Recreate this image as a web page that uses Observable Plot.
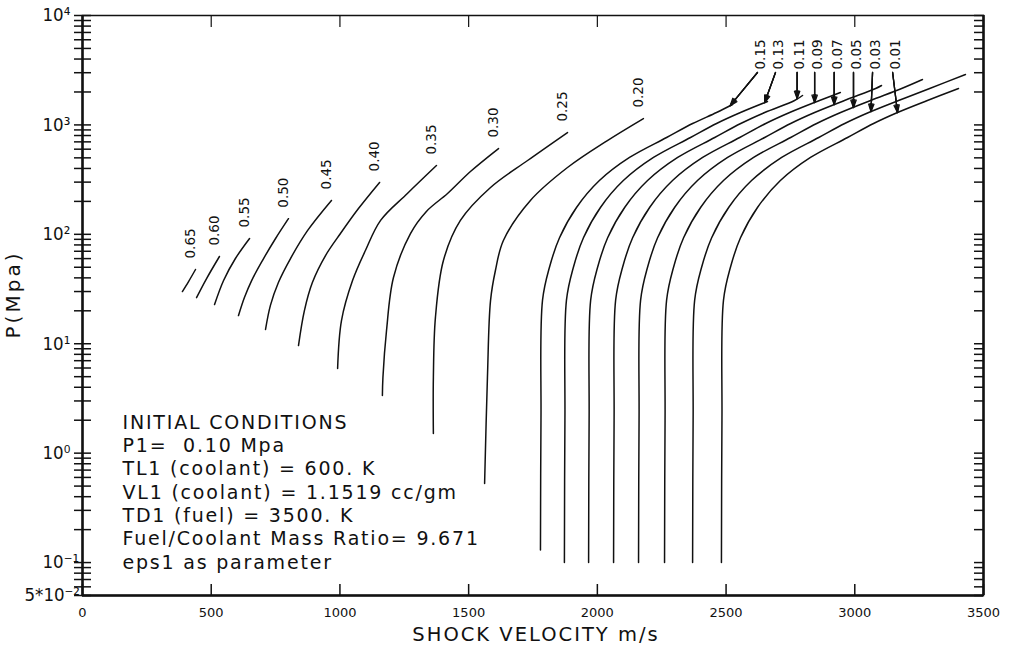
<!DOCTYPE html>
<html><head><meta charset="utf-8">
<script src="https://cdn.jsdelivr.net/npm/d3@7"></script>
<script src="https://cdn.jsdelivr.net/npm/@observablehq/plot@0.6"></script>
<style>
html,body{margin:0;padding:0;background:#fff;}
svg text{white-space:pre;}
g[font-size="19"] text{letter-spacing:1.8px;}
g[font-size="19.5"] text{letter-spacing:2px;}
g[font-size="20"] text{letter-spacing:3px;}
</style></head><body>
<script>
// ---- curve parameters (eps1) ----
const epsHigh = ["0.65","0.60","0.55","0.50","0.45","0.40","0.35","0.30","0.25","0.20"];
const epsLow  = ["0.15","0.13","0.11","0.09","0.07","0.05","0.03","0.01"];

// ---- shock velocity (m/s) and pressure (MPa) ----
const v_065 = [388, 412, 439];
const P_065 = [30.0, 37.0, 47.7];
const v_060 = [443, 482, 532];
const P_060 = [26.4, 39.4, 62.7];
const v_055 = [513, 548, 594, 649];
const P_055 = [22.8, 37.8, 60.1, 91.6];
const v_050 = [606, 629, 657, 699, 750, 800];
const P_050 = [18.1, 26.4, 37.8, 57.6, 91.6, 139];
const v_045 = [711, 730, 761, 808, 874, 967];
const P_045 = [13.5, 22.4, 36.3, 60.1, 108, 204];
const v_040 = [839, 862, 893, 944, 1002, 1072, 1154];
const P_040 = [9.63, 20.1, 36.3, 64.0, 101.7, 172, 298];
const v_035 = [991, 1006, 1049, 1099, 1158, 1262, 1375];
const P_035 = [5.93, 16.3, 37.8, 71.1, 134, 236, 425];
const v_030 = [1165, 1167, 1181, 1208, 1274, 1336, 1418, 1507, 1616];
const P_030 = [3.36, 4.91, 13.2, 40.3, 101.7, 162, 236, 375, 608];
const v_025 = [1363, 1363, 1371, 1402, 1468, 1585, 1729, 1884];
const P_025 = [1.51, 4.91, 17.4, 57.6, 134, 268, 473, 852];
const v_020 = [1562, 1573, 1585, 1604, 1635, 1740, 1884, 2039, 2179];
const P_020 = [0.527, 4.91, 24.8, 46.7, 87.8, 204, 408, 720, 1144];
const v_015 = [1779, 1781, 1787, 1814, 1853, 1919, 2008, 2125, 2269, 2370, 2463, 2525];
const P_015 = [0.13, 2, 25, 50, 93, 176, 310, 504, 767, 1030, 1298, 1536];
const v_013 = [1872, 1874, 1880, 1907, 1946, 2012, 2101, 2218, 2362, 2463, 2556, 2661];
const P_013 = [0.1, 2, 25, 50, 93, 176, 310, 504, 767, 1030, 1298, 1637];
const v_011 = [1966, 1968, 1974, 2001, 2040, 2106, 2195, 2312, 2456, 2557, 2650, 2766, 2797];
const P_011 = [0.1, 2, 25, 50, 93, 176, 310, 504, 767, 1030, 1298, 1671, 1857];
const v_009 = [2063, 2065, 2071, 2098, 2137, 2203, 2292, 2409, 2553, 2654, 2747, 2863, 2944];
const P_009 = [0.1, 2, 25, 50, 93, 176, 310, 504, 767, 1030, 1298, 1671, 1978];
const v_007 = [2160, 2162, 2168, 2195, 2234, 2300, 2389, 2506, 2650, 2751, 2844, 2960, 3081, 3104];
const P_007 = [0.1, 2, 25, 50, 93, 176, 310, 504, 767, 1030, 1298, 1671, 2152, 2291];
const v_005 = [2261, 2263, 2269, 2296, 2335, 2401, 2490, 2607, 2751, 2852, 2945, 3061, 3182, 3263];
const P_005 = [0.1, 2, 25, 50, 93, 176, 310, 504, 767, 1030, 1298, 1671, 2152, 2600];
const v_003 = [2370, 2372, 2378, 2405, 2444, 2510, 2599, 2716, 2860, 2961, 3054, 3170, 3291, 3430];
const P_003 = [0.1, 2, 25, 50, 93, 176, 310, 504, 767, 1030, 1298, 1671, 2152, 2890];
const v_001 = [2482, 2484, 2490, 2517, 2556, 2622, 2711, 2828, 2972, 3073, 3166, 3282, 3403];
const P_001 = [0.1, 2, 25, 50, 93, 176, 310, 504, 767, 1030, 1298, 1671, 2152];

// ---- leader arrows for the crowded low-eps labels ----
const arrowFromV = [2622, 2692, 2776, 2844, 2920, 2995, 3069, 3147];
const arrowFromP = [3013, 3013, 3013, 3013, 3013, 3013, 3013, 3013];
const arrowToV   = [2516, 2650, 2776, 2844, 2920, 2995, 3063, 3166];
const arrowToP   = [1500, 1600, 1741, 1603, 1536, 1442, 1325, 1298];

// ---- ticks ----
const xTicks = [0, 500, 1000, 1500, 2000, 2500, 3000, 3500];
const yDecades = [0.1, 1, 10, 100, 1000, 10000];
const yDecadeLabels = ["10⁻¹", "10⁰", "10¹", "10²", "10³", "10⁴"];
const yBottom = [0.05];
const yBottomLabel = ["5*10⁻²"];

const boxLines = [
  "INITIAL CONDITIONS",
  "P1=  0.10 Mpa",
  "TL1 (coolant) = 600. K",
  "VL1 (coolant) = 1.1519 cc/gm",
  "TD1 (fuel) = 3500. K",
  "Fuel/Coolant Mass Ratio= 9.671",
  "eps1 as parameter"
];
const xTitle = "SHOCK VELOCITY m/s";
const yTitle = "P(Mpa)";

// ---- build tables ----
const curveEps = [...epsHigh, ...epsLow];
const curveV = [v_065, v_060, v_055, v_050, v_045, v_040, v_035, v_030, v_025, v_020,
                v_015, v_013, v_011, v_009, v_007, v_005, v_003, v_001];
const curveP = [P_065, P_060, P_055, P_050, P_045, P_040, P_035, P_030, P_025, P_020,
                P_015, P_013, P_011, P_009, P_007, P_005, P_003, P_001];
const rows = curveEps.flatMap((e, i) => curveV[i].map((v, j) => ({eps: e, v, P: curveP[i][j]})));
const tops = epsHigh.map((e, i) => ({eps: e, v: curveV[i][curveV[i].length - 1], P: curveP[i][curveP[i].length - 1]}));
const arrows = epsLow.map((e, i) => ({eps: e, x1: arrowFromV[i], y1: arrowFromP[i], x2: arrowToV[i], y2: arrowToP[i]}));

const yMinor = [];
for (let e = -2; e <= 3; e++) for (let m = 1; m <= 9; m++) {
  const v = +(m * Math.pow(10, e)).toPrecision(6);
  if (v >= 0.05 && v <= 10000) yMinor.push(v);
}
yMinor.push(10000);
const decLabel = new Map(yDecades.map((d, i) => [d, yDecadeLabels[i]]));

const ink = "#111";
const tickFont = "DejaVu Sans Condensed, DejaVu Sans, sans-serif";
const chart = Plot.plot({
  width: 1010, height: 646,
  marginLeft: 82, marginRight: 27, marginTop: 15, marginBottom: 51,
  x: {domain: [0, 3500], axis: null},
  y: {type: "log", domain: [0.05, 10000], axis: null},
  style: {fontFamily: "DejaVu Sans, sans-serif", color: ink, background: "#fff", overflow: "visible"},
  marks: [
    Plot.frame({stroke: ink, strokeWidth: 1.5}),
    Plot.ruleX([0, 3500], {stroke: ink, strokeWidth: 2.5}),
    Plot.ruleY([0.05], {stroke: ink, strokeWidth: 2.5}),
    // y ticks: crossing on the left, inward on the right
    Plot.axisY(yMinor, {anchor: "left", tickSize: 17, dx: 9, tickFormat: () => "", strokeWidth: 1.5}),
    Plot.axisY(yMinor, {anchor: "right", tickSize: 10, dx: -10, tickFormat: () => "", strokeWidth: 1.5}),
    Plot.axisY(yDecades, {anchor: "left", tickSize: 0, tickPadding: 40, textAnchor: "start", tickFormat: d => decLabel.get(d), fontSize: 18.5, fontFamily: tickFont}),
    Plot.text(yBottom, {y: d => d, frameAnchor: "left", text: (d, i) => yBottomLabel[i], dx: -58, textAnchor: "start", fontSize: 18.5, fontFamily: tickFont, fill: ink}),
    // x ticks: inward bottom and top
    Plot.axisX(xTicks, {anchor: "bottom", tickSize: 11, dy: -11, tickFormat: () => "", strokeWidth: 1.5}),
    Plot.axisX(xTicks, {anchor: "top", tickSize: 11, dy: 11, tickFormat: () => "", strokeWidth: 1.2}),
    Plot.axisX(xTicks, {anchor: "bottom", tickSize: 0, tickPadding: 12, fontSize: 13, tickFormat: d => String(d)}),
    // curves
    Plot.line(rows, {x: "v", y: "P", z: "eps", curve: "catmull-rom", stroke: ink, strokeWidth: 1.5}),
    // labels of high-eps curves
    Plot.text(tops, {x: "v", y: "P", text: "eps", rotate: -90, textAnchor: "start", dx: -5, dy: -11, fontSize: 13.5, fill: ink}),
    // arrows & labels of low-eps curves
    Plot.arrow(arrows, {x1: "x1", y1: "y1", x2: "x2", y2: "y2", headLength: 9, headAngle: 40, stroke: ink, strokeWidth: 1.3}),
    Plot.arrow(arrows, {x1: "x1", y1: "y1", x2: "x2", y2: "y2", headLength: 9, headAngle: 25, stroke: ink, strokeWidth: 1.3}),
    Plot.arrow(arrows, {x1: "x1", y1: "y1", x2: "x2", y2: "y2", headLength: 9, headAngle: 12, stroke: ink, strokeWidth: 1.3}),
    Plot.text(arrows, {x: "x1", y: "y1", text: "eps", rotate: -90, textAnchor: "start", dx: 3, dy: -3, fontSize: 13.5, fill: ink}),
    // initial-conditions box
    Plot.text([boxLines.join("\n")], {frameAnchor: "bottom-left", text: d => d, dx: 40, dy: -27, textAnchor: "start", lineAnchor: "bottom", lineHeight: 1.226, fontSize: 19, fill: ink}),
    // axis titles
    Plot.text([xTitle], {frameAnchor: "bottom", text: d => d, dx: 3, dy: 45, textAnchor: "middle", lineAnchor: "bottom", fontSize: 19.5, fill: ink}),
    Plot.text([yTitle], {frameAnchor: "left", text: d => d, dx: -69, dy: -11, rotate: -90, textAnchor: "middle", fontSize: 20, fill: ink})
  ]
});
document.body.appendChild(chart);
</script>
</body></html>
